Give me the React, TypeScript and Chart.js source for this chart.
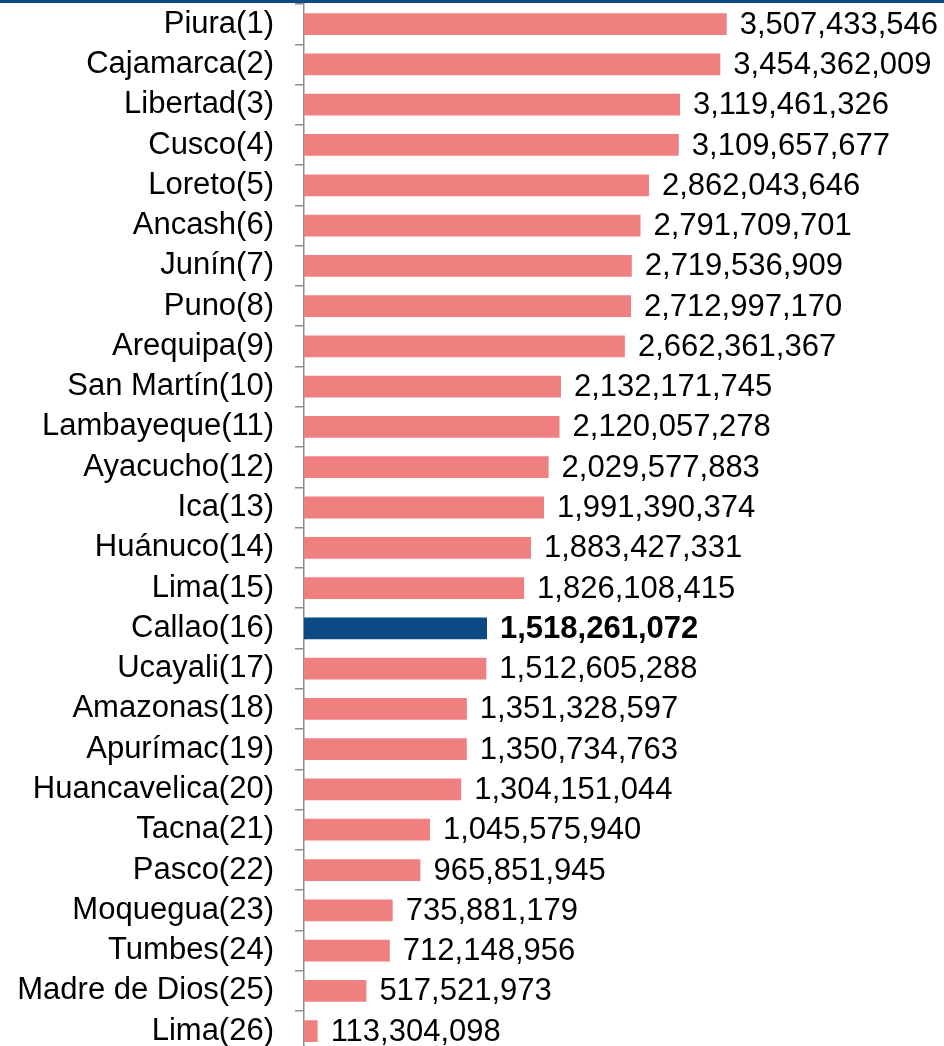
import React, { useEffect, useRef } from "react";
import { Chart, registerables } from "chart.js";

Chart.register(...registerables);

const categories = [
  "Piura(1)", "Cajamarca(2)", "Libertad(3)", "Cusco(4)", "Loreto(5)", "Ancash(6)",
  "Junín(7)", "Puno(8)", "Arequipa(9)", "San Martín(10)", "Lambayeque(11)",
  "Ayacucho(12)", "Ica(13)", "Huánuco(14)", "Lima(15)", "Callao(16)", "Ucayali(17)",
  "Amazonas(18)", "Apurímac(19)", "Huancavelica(20)", "Tacna(21)", "Pasco(22)",
  "Moquegua(23)", "Tumbes(24)", "Madre de Dios(25)", "Lima(26)",
];

const values = [
  3507433546, 3454362009, 3119461326, 3109657677, 2862043646, 2791709701,
  2719536909, 2712997170, 2662361367, 2132171745, 2120057278, 2029577883,
  1991390374, 1883427331, 1826108415, 1518261072, 1512605288, 1351328597,
  1350734763, 1304151044, 1045575940, 965851945, 735881179, 712148956,
  517521973, 113304098,
];

const highlighted = "Callao(16)";

const FONT = "'Liberation Sans', Arial, sans-serif";
const FONT_SIZE = 31;
const PINK = "#F08080";
const NAVY = "#0B4A82";
const AXIS_GRAY = "#8c8c8c";

const valueLabels = {
  id: "valueLabels",
  afterDatasetsDraw(chart: any) {
    const ctx = chart.ctx;
    const meta = chart.getDatasetMeta(0);
    const limit = chart.width - 6;
    ctx.save();
    ctx.textBaseline = "middle";
    ctx.textAlign = "left";
    ctx.fillStyle = "#000";
    meta.data.forEach((bar: any, i: number) => {
      const bold = categories[i] === highlighted;
      ctx.font = `${bold ? "bold " : ""}${FONT_SIZE}px ${FONT}`;
      const text = values[i].toLocaleString("en-US");
      const w = ctx.measureText(text).width;
      let x = bar.x + 13;
      if (x + w > limit) x = limit - w;
      ctx.fillText(text, x, bar.y + 1);
    });
    ctx.restore();
  },
};

export default function App() {
  const ref = useRef<HTMLCanvasElement | null>(null);

  useEffect(() => {
    if (!ref.current) return;
    const chart = new Chart(ref.current, {
      type: "bar",
      data: {
        labels: categories,
        datasets: [
          {
            data: values,
            backgroundColor: categories.map((c) => (c === highlighted ? NAVY : PINK)),
            borderWidth: 0,
            barPercentage: 0.54,
            categoryPercentage: 1,
          },
        ],
      },
      options: {
        indexAxis: "y",
        animation: false,
        responsive: false,
        maintainAspectRatio: false,
        layout: { padding: { top: 4, bottom: 0.72, left: 0, right: 0 } },
        plugins: {
          legend: { display: false },
          tooltip: { enabled: false },
        },
        scales: {
          x: {
            display: false,
            min: 0,
            max: 5.31e9,
          },
          y: {
            afterFit: (scale: any) => {
              scale.width = 304;
              scale.paddingTop = 0;
              scale.paddingBottom = 0;
            },
            grid: {
              display: true,
              drawOnChartArea: false,
              drawTicks: true,
              tickLength: 9,
              color: AXIS_GRAY,
              lineWidth: 1.5,
              offset: true,
            },
            border: { display: true, color: AXIS_GRAY, width: 1.5 },
            ticks: {
              autoSkip: false,
              padding: 21,
              color: "#000",
              font: { family: FONT, size: FONT_SIZE },
            },
          },
        },
      },
      plugins: [valueLabels],
    });
    return () => chart.destroy();
  }, []);

  return (
    <div
      style={{
        position: "fixed",
        left: 0,
        top: 0,
        width: 944,
        height: 1046,
        overflow: "hidden",
        background: "#fff",
      }}
    >
      <canvas ref={ref} width={944} height={1052} style={{ display: "block" }} />
      <div
        style={{
          position: "absolute",
          left: 0,
          top: 0,
          width: 944,
          height: 3,
          background: "#0F4C81",
        }}
      />
    </div>
  );
}
